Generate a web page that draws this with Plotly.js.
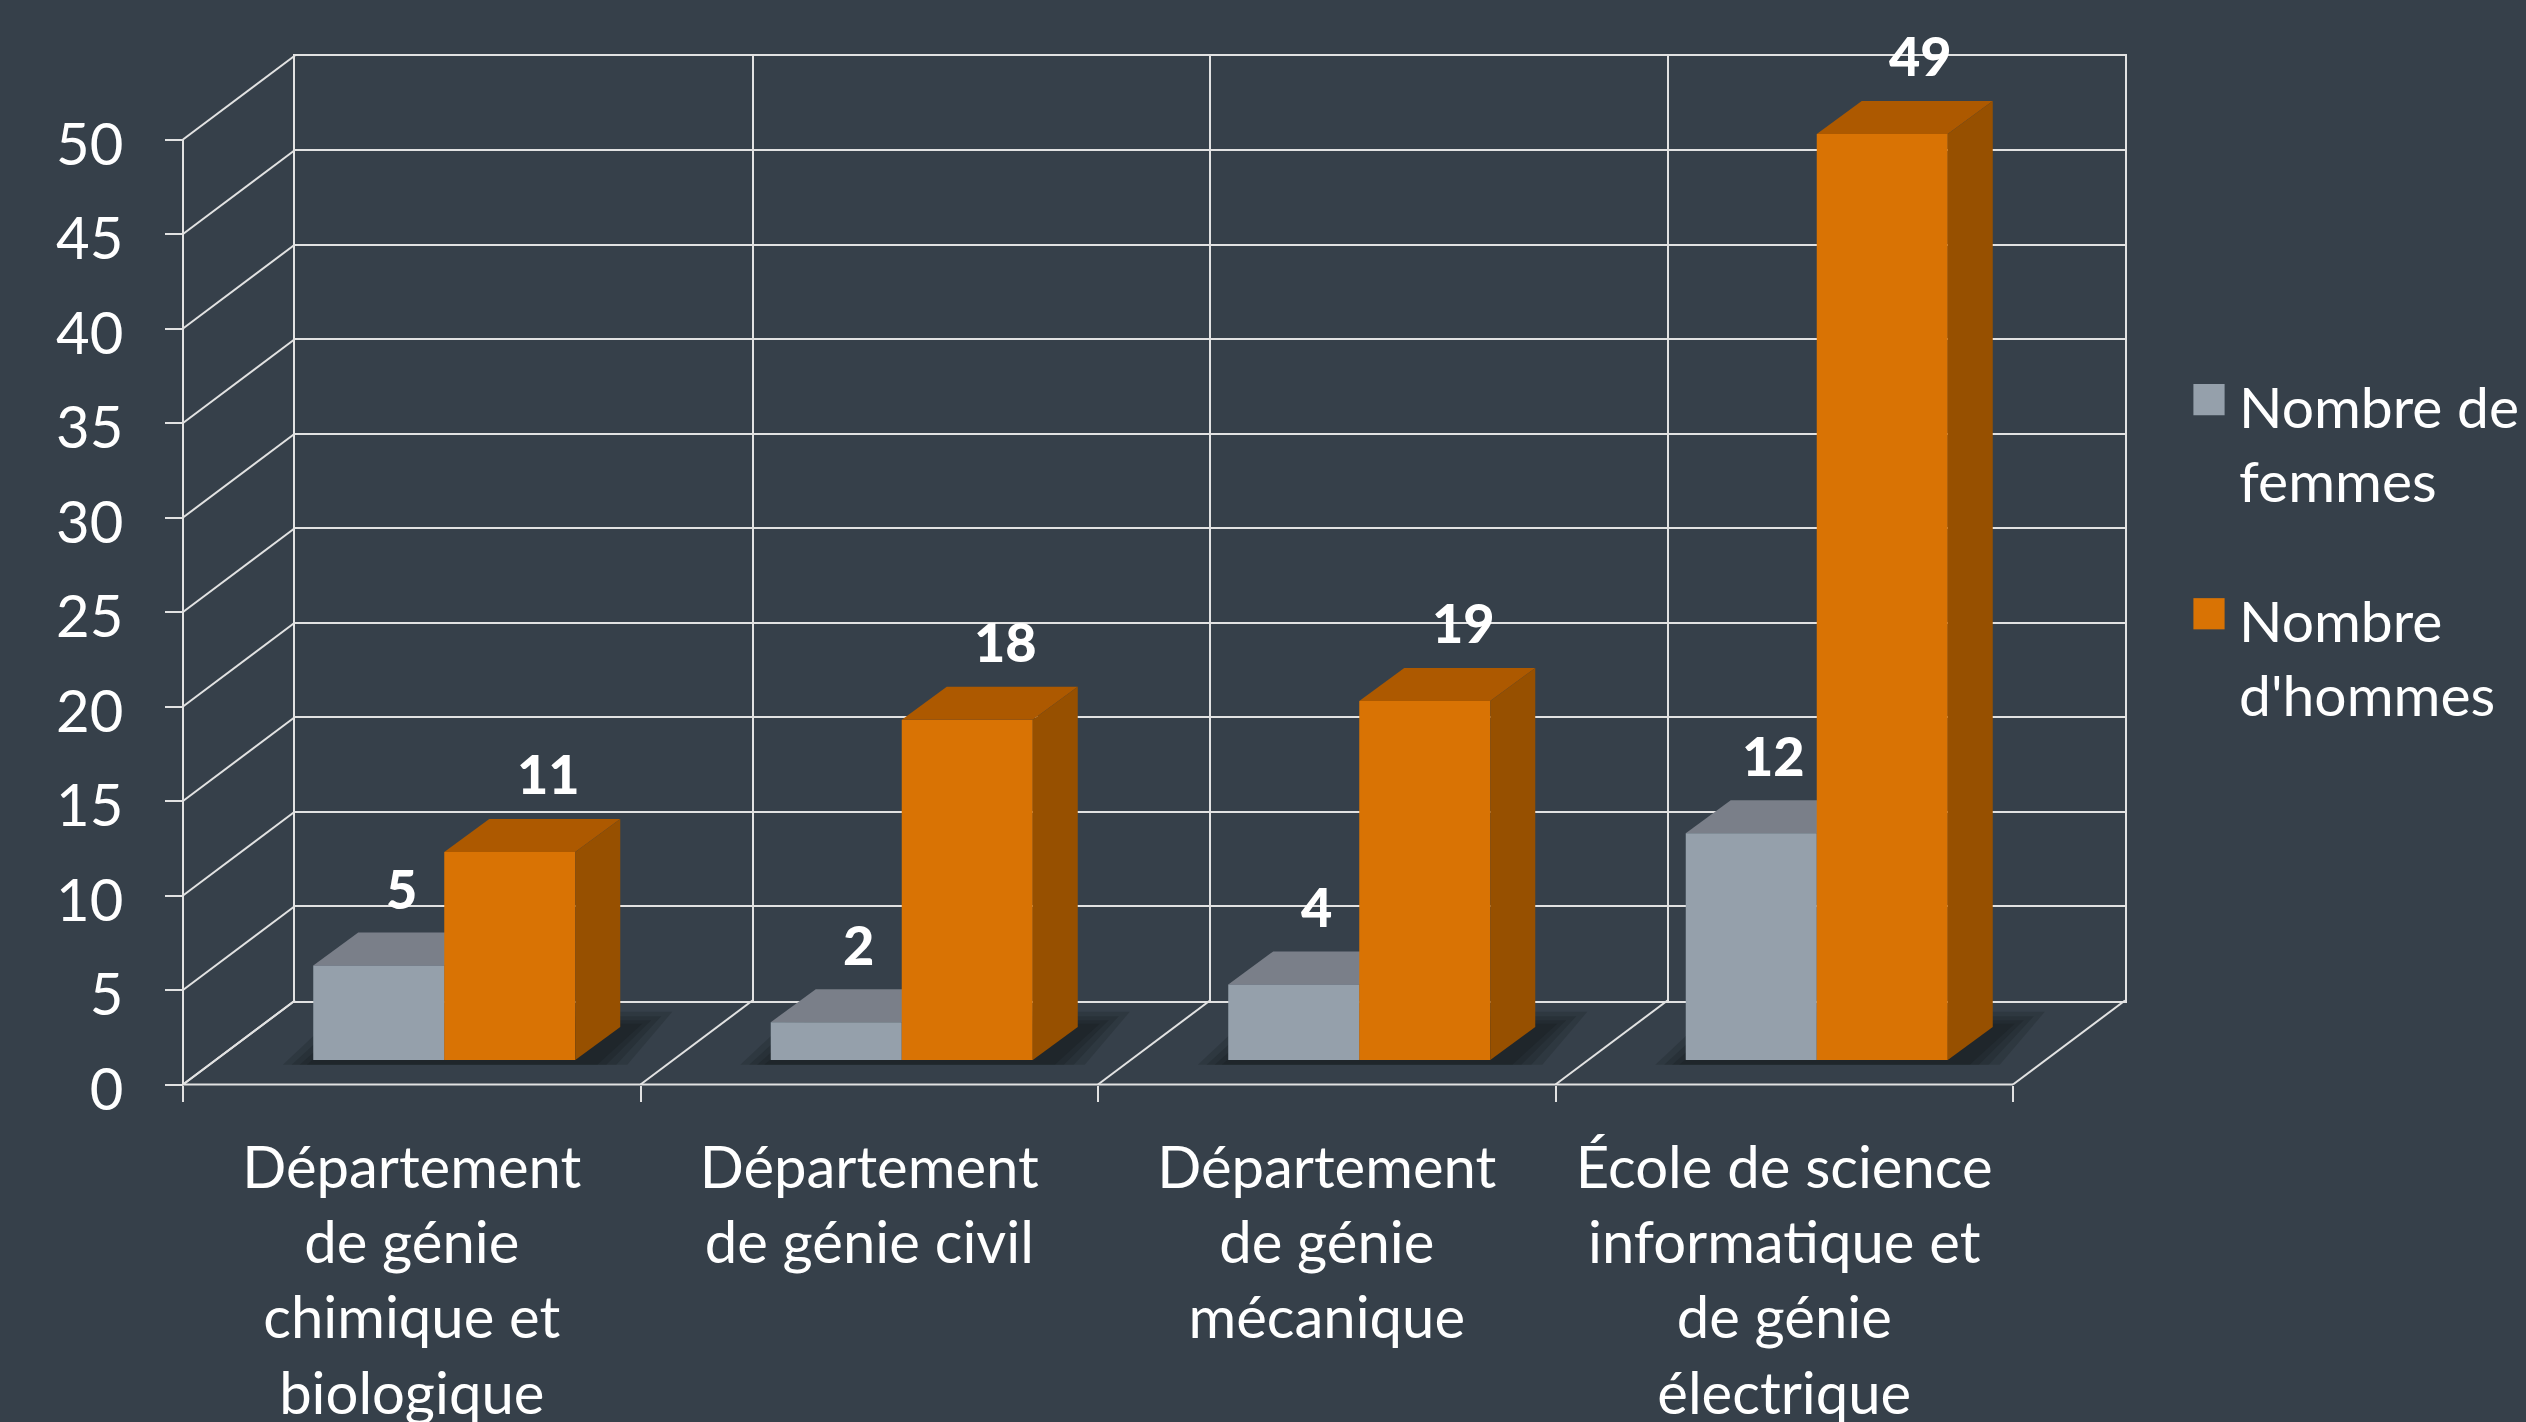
<!DOCTYPE html>
<html><head><meta charset="utf-8">
<script src="https://cdn.plot.ly/plotly-3.0.1.min.js"></script>
<style>html,body{margin:0;padding:0;background:#36404a;overflow:hidden}#chart{width:2526px;height:1422px}</style>
</head><body><div id="chart"></div>
<script>
// ---------- data ----------
const categories = [
  "Département<br>de génie<br>chimique et<br>biologique",
  "Département<br>de génie civil",
  "Département<br>de génie<br>mécanique",
  "École de science<br>informatique et<br>de génie<br>électrique"
];
const femmes = [5, 2, 4, 12];
const hommes = [11, 18, 19, 49];
const seriesNames = ["Nombre de<br>femmes", "Nombre<br>d'hommes"];
const yTicks = [0, 5, 10, 15, 20, 25, 30, 35, 40, 45, 50];

// ---------- layout constants (pixels) ----------
const W = 2526, H = 1422;
const UNIT = 18.9;      // px per value unit
const CAT = 457.5;      // px per category
const frontLeft = 183, frontBase = 1084.5;
const wallDX = 112, wallDY = 84;     // depth of back wall
const barDX = 32.5, barDY = 24.5;    // bar front plane shift
const depthDX = 45, depthDY = 33;    // bar depth
const barWidthPx = 131;

const FONT = 'Lato, "Open Sans", sans-serif';
const GRID = '#e2e2e2';
const BG = '#36404a';
const GRAY = ['#95a0ab', '#7a7f89', '#6c717a'];
const ORANGE = ['#d97304', '#ad5900', '#975000'];

const nCat = categories.length;
const catIdx = categories.map((c, i) => i);
const bounds = [...catIdx, nCat];
const bw = barWidthPx / CAT;
const ddx = depthDX / CAT, ddy = depthDY / UNIT;
const wdx = wallDX / CAT, wdy = wallDY / UNIT;

const px = v => v / W;
const py = v => 1 - v / H;

// ---------- traces ----------
const traces = [
  {type: 'scatter', x: [], y: [], xaxis: 'x', yaxis: 'y', showlegend: false, hoverinfo: 'skip'},
  {type: 'scatter', x: [], y: [], xaxis: 'x2', yaxis: 'y2', showlegend: false, hoverinfo: 'skip'},
  {type: 'scatter', x: [], y: [], xaxis: 'x4', yaxis: 'y2', showlegend: false, hoverinfo: 'skip'},
  {type: 'bar', name: seriesNames[0], x: catIdx, y: femmes, xaxis: 'x3', yaxis: 'y3',
   width: bw, offset: -bw, marker: {color: GRAY[0], line: {width: 0}},
   legendgroup: 'f', hoverinfo: 'skip'},
  {type: 'bar', name: seriesNames[1], x: catIdx, y: hommes, xaxis: 'x3', yaxis: 'y3',
   width: bw, offset: 0, marker: {color: ORANGE[0], line: {width: 0}},
   legendgroup: 'h', hoverinfo: 'skip'}
];

// ---------- shapes ----------
const shapes = [];
const gl = {color: GRID, width: 2};
const poly = pts => 'M' + pts.map(p => p[0] + ',' + p[1]).join('L') + 'Z';

// front frame (x2/y2): vertical axis, floor front edge, left-wall and floor diagonals
shapes.push({type: 'line', xref: 'x2', yref: 'y2', x0: 0, y0: 0, x1: 0, y1: yTicks[yTicks.length - 1], line: gl, layer: 'below'});
shapes.push({type: 'line', xref: 'x2', yref: 'y2', x0: 0, y0: 0, x1: nCat, y1: 0, line: gl, layer: 'below'});
yTicks.forEach(v => shapes.push({type: 'line', xref: 'x2', yref: 'y2', x0: 0, y0: v, x1: wdx, y1: v + wdy, line: gl, layer: 'below'}));
bounds.forEach(k => shapes.push({type: 'line', xref: 'x2', yref: 'y2', x0: k, y0: 0, x1: k + wdx, y1: wdy, line: gl, layer: 'below'}));

// soft shadows on the floor
catIdx.forEach(k => {
  const xl = k - bw, xr = k + bw, sx = 14 / CAT;
  [38, 27, 17, 8].forEach(e => {
    const ex = e / CAT, ey = e / UNIT;
    shapes.push({type: 'path', xref: 'x3', yref: 'y3', layer: 'below',
      path: poly([[xl - ex * 0.8, -0.25], [xr + ex + sx, -0.25], [xr + ddx + ex + sx, ddy + ey * 0.4], [xl + ddx - ex * 0.5, ddy + ey * 0.4]]),
      fillcolor: 'rgba(12,16,20,0.17)', line: {width: 0}});
  });
});

// 3D faces
function faces(vals, off, cols, layer) {
  vals.forEach((v, k) => {
    const xl = k + off, xr = k + off + bw;
    shapes.push({type: 'path', xref: 'x3', yref: 'y3', layer: layer,
      path: poly([[xl, v], [xl + ddx, v + ddy], [xr + ddx, v + ddy], [xr, v]]),
      fillcolor: cols[1], line: {width: 0}});
    shapes.push({type: 'path', xref: 'x3', yref: 'y3', layer: layer,
      path: poly([[xr, 0], [xr, v], [xr + ddx, v + ddy], [xr + ddx, ddy]]),
      fillcolor: cols[2], line: {width: 0}});
  });
}
faces(femmes, -bw, GRAY, 'below');
faces(hommes, 0, ORANGE, 'above');

// ---------- data labels ----------
const annotations = [];
const labFont = {family: FONT, size: 54, color: '#ffffff', weight: 900};
femmes.forEach((v, k) => annotations.push({xref: 'x3', yref: 'y3', x: k - bw / 2 + ddx / 2, y: v + ddy,
  text: String(v), showarrow: false, xanchor: 'center', yanchor: 'bottom', yshift: 10, font: labFont}));
hommes.forEach((v, k) => annotations.push({xref: 'x3', yref: 'y3', x: k + bw / 2 + ddx / 2, y: v + ddy,
  text: String(v), showarrow: false, xanchor: 'center', yanchor: 'bottom', yshift: 11, xshift: 16, font: labFont}));

// ---------- axes ----------
const x2range = [-0.05, 4.4], y2range = [-0.2, 55];
const x3range = [-0.5, 3.9], y3range = [-1, 55];
const hidden = {showgrid: false, zeroline: false, showticklabels: false, ticks: '', showline: false};

const layout = {
  width: W, height: H, autosize: false,
  margin: {l: 0, r: 0, t: 0, b: 0, pad: 0},
  paper_bgcolor: BG, plot_bgcolor: 'rgba(0,0,0,0)',
  barmode: 'overlay',
  showlegend: true,
  font: {family: FONT, color: '#ffffff'},
  // back wall
  xaxis: {domain: [px(frontLeft + wallDX), px(frontLeft + wallDX + nCat * CAT)], range: [0, nCat], anchor: 'y',
    tickvals: bounds, ticks: '', showticklabels: false, showgrid: true, gridcolor: GRID, gridwidth: 2,
    zeroline: false, showline: true, mirror: true, linecolor: GRID, linewidth: 2},
  yaxis: {domain: [py(frontBase - wallDY), py(frontBase - wallDY - 50 * UNIT)], range: [0, 50], anchor: 'x',
    tickvals: yTicks, ticks: '', showticklabels: false, showgrid: true, gridcolor: GRID, gridwidth: 2,
    zeroline: false, showline: true, mirror: true, linecolor: GRID, linewidth: 2},
  // front frame
  xaxis2: {domain: [px(frontLeft + x2range[0] * CAT), px(frontLeft + x2range[1] * CAT)], range: x2range,
    anchor: 'free', position: py(frontBase), tickvals: bounds, ticks: 'outside', ticklen: 16, tickwidth: 2,
    tickcolor: GRID, showticklabels: false, showgrid: false, zeroline: false, showline: false},
  yaxis2: {domain: [py(frontBase - y2range[0] * UNIT), py(frontBase - y2range[1] * UNIT)], range: y2range,
    anchor: 'free', position: px(frontLeft), tickvals: yTicks, ticks: 'outside', ticklen: 18, tickwidth: 2,
    tickcolor: GRID, showgrid: false, zeroline: false, showline: false, ticklabelstandoff: 30,
    ticklabelshift: 5, tickfont: {family: FONT, size: 58, color: '#ffffff'}},
  xaxis4: {overlaying: 'x2', range: x2range, anchor: 'free', position: py(frontBase), side: 'bottom',
    tickvals: catIdx.map(i => i + 0.5), ticktext: categories, ticks: '', tickangle: 0,
    showgrid: false, zeroline: false, showline: false, ticklabelstandoff: 44,
    tickfont: {family: FONT, size: 58, color: '#ffffff'}},
  // bars
  xaxis3: Object.assign({domain: [px(frontLeft + barDX), px(frontLeft + barDX + (x3range[1] - x3range[0]) * CAT)],
    range: x3range, anchor: 'y3'}, hidden),
  yaxis3: Object.assign({domain: [py(frontBase - barDY - y3range[0] * UNIT), py(frontBase - barDY - y3range[1] * UNIT)],
    range: y3range, anchor: 'x3'}, hidden),
  legend: {x: px(2189), y: py(362), xanchor: 'left', yanchor: 'top', bgcolor: 'rgba(0,0,0,0)',
    font: {family: FONT, size: 57, color: '#ffffff'}, valign: 'top', traceorder: 'grouped',
    tracegroupgap: 63, itemwidth: 40},
  shapes: shapes,
  annotations: annotations
};

Plotly.newPlot('chart', traces, layout, {displayModeBar: false, staticPlot: true}).then(gd => {
  gd.querySelectorAll('.legend .legendpoints path').forEach(p => {
    const t = p.getAttribute('transform') || '';
    p.setAttribute('transform', (t + ' translate(-5,-6) scale(2.6)').trim());
  });
});
</script>
</body></html>
